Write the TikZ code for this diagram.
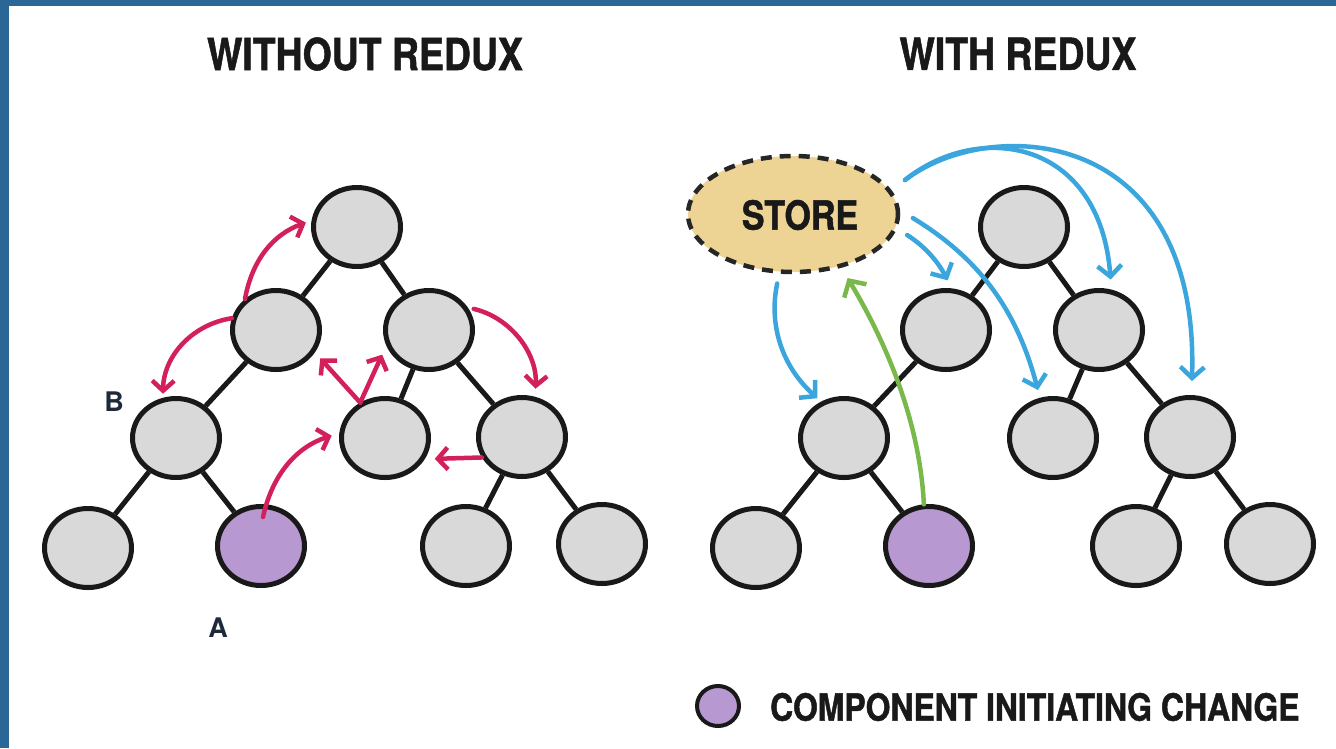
\documentclass[tikz,border=0pt]{standalone}
\usepackage{fontspec}
\setmainfont{TeX Gyre Heros}
\newfontfamily\condfont[FakeStretch=0.85,FakeBold=1.2]{TeX Gyre Heros}
\usetikzlibrary{shapes.geometric,arrows.meta,calc}
\definecolor{frameblue}{HTML}{2A6797}
\definecolor{nodegray}{HTML}{D9D9D9}
\definecolor{purp}{HTML}{B898D0}
\definecolor{storefill}{HTML}{EED494}
\definecolor{arrred}{HTML}{D4205A}
\definecolor{arrblue}{HTML}{3BA6DD}
\definecolor{arrgreen}{HTML}{79B84A}
\definecolor{labcol}{HTML}{1E2A3A}
\begin{document}
\begin{tikzpicture}[x=1pt,y=-1pt,
  comp/.style={ellipse, draw=black!90, line width=5pt, fill=nodegray, minimum width=87pt, minimum height=79pt, inner sep=0pt},
  tedge/.style={draw=black!90, line width=5pt},
  redarr/.style={draw=arrred, line width=4.5pt, line cap=round, -{Straight Barb[length=10pt,width=22pt]}},
  bluearr/.style={draw=arrblue, line width=4.5pt, line cap=round, -{Straight Barb[length=11pt,width=24pt]}},
  greenarr/.style={draw=arrgreen, line width=4.5pt, line cap=round, -{Straight Barb[length=12pt,width=26pt]}},
  titletext/.style={font=\condfont\bfseries\fontsize{44}{44}\selectfont, inner sep=0pt, text=black!90},
  legtext/.style={font=\condfont\bfseries\fontsize{37.5}{37.5}\selectfont, inner sep=0pt, text=black!90},
  storetext/.style={font=\condfont\bfseries\fontsize{40}{40}\selectfont, text=black!90},
  labtext/.style={font=\bfseries\fontsize{27}{27}\selectfont, inner sep=0pt, text=labcol}
]
\useasboundingbox (0,0) rectangle (1336,748);
\fill[white] (0,0) rectangle (1336,748);
\fill[frameblue] (0,0) rectangle (1336,6);
\fill[frameblue] (0,0) rectangle (9,748);

% titles
\node[titletext] (t1) at (365,54) {WITHOUT REDUX};
\node[titletext] (t2) at (1018,54) {WITH REDUX};

% left tree
\node[comp] (lroot) at (357,227) {};
\node[comp] (la) at (276,330) {};
\node[comp] (lb) at (429,330) {};
\node[comp] (lB) at (176,438) {};
\node[comp] (lM) at (385,438) {};
\node[comp] (lR) at (522,437) {};
\node[comp] (l1) at (88,548) {};
\node[comp,fill=purp] (lA) at (261,546) {};
\node[comp] (l3) at (466,546) {};
\node[comp] (l4) at (602,544) {};
\draw[tedge] (lroot) -- (la);
\draw[tedge] (lroot) -- (lb);
\draw[tedge] (la) -- (lB);
\draw[tedge] (lb) -- (lM);
\draw[tedge] (lb) -- (lR);
\draw[tedge] (lB) -- (l1);
\draw[tedge] (lB) -- (lA);
\draw[tedge] (lR) -- (l3);
\draw[tedge] (lR) -- (l4);

\node[labtext] (labB) at (114,402) {B};
\node[labtext] (labA) at (218,628) {A};

% red arrows
\draw[redarr, shorten >=6pt] (la.135) to[bend left=30] (lroot.172);
\draw[redarr, shorten >=4pt] (la.165) to[bend right=40] (lB.108);
\draw[redarr, shorten <=6pt, shorten >=8pt] (lb.30) to[bend left=40] (lR.72);
\draw[redarr, shorten >=8pt] (lM.125) -- (la.-30);
\draw[redarr, shorten >=10pt] (lM.125) -- (lb.200);
\coordinate (lAs) at ($(lA)+(2,-29)$);
\draw[redarr, shorten >=8pt] (lAs) to[bend left=30] (lM.174);
\draw[redarr, shorten >=10pt] (lR.207) -- (lM.-28);

% right tree
\node[comp] (rroot) at (1024,227) {};
\node[comp] (ra) at (946,330) {};
\node[comp] (rb) at (1099,330) {};
\node[comp] (rB) at (844,438) {};
\node[comp] (rM) at (1053,438) {};
\node[comp] (rR) at (1190,437) {};
\node[comp] (r1) at (756,548) {};
\node[comp,fill=purp] (rA) at (929,546) {};
\node[comp] (r3) at (1136,546) {};
\node[comp] (r4) at (1270,544) {};
\draw[tedge] (rroot) -- (ra);
\draw[tedge] (rroot) -- (rb);
\draw[tedge] (ra) -- (rB);
\draw[tedge] (rb) -- (rM);
\draw[tedge] (rb) -- (rR);
\draw[tedge] (rB) -- (r1);
\draw[tedge] (rB) -- (rA);
\draw[tedge] (rR) -- (r3);
\draw[tedge] (rR) -- (r4);

% store
\node[ellipse, draw=black!85, line width=4.5pt, dash pattern=on 11pt off 8pt, fill=storefill, minimum width=210pt, minimum height=116pt, inner sep=0pt] (store) at (793,214) {};
\node[storetext] (storet) at (800,215) {STORE};

% blue arrows
\coordinate (sout) at (905,180);
\draw[bluearr, shorten <=10pt, shorten >=5pt] (store.257) to[bend right=30] (rB.122);
\draw[bluearr, shorten <=12pt, shorten >=9pt] (store.-8) to[bend left=15] (ra.82);
\draw[bluearr, shorten <=15pt, shorten >=8pt] (store.2) to[bend left=22] (rM.108);
\draw[bluearr, shorten >=10pt] (sout) .. controls (980,120) and (1100,140) .. (rb.73);
\draw[bluearr, shorten >=14pt] (sout) .. controls (990,115) and (1200,125) .. (rR.88);

% green arrow
\draw[greenarr, shorten >=12pt] (rA.97) .. controls +(-5,-100) and +(30,50) .. (store.-48);

% legend
\node[ellipse, draw=black!90, line width=4pt, fill=purp, minimum width=42pt, minimum height=40pt, inner sep=0pt] (leg) at (718,706) {};
\node[legtext, anchor=west] (legt) at (770,707) {COMPONENT INITIATING CHANGE};
\end{tikzpicture}
\end{document}
